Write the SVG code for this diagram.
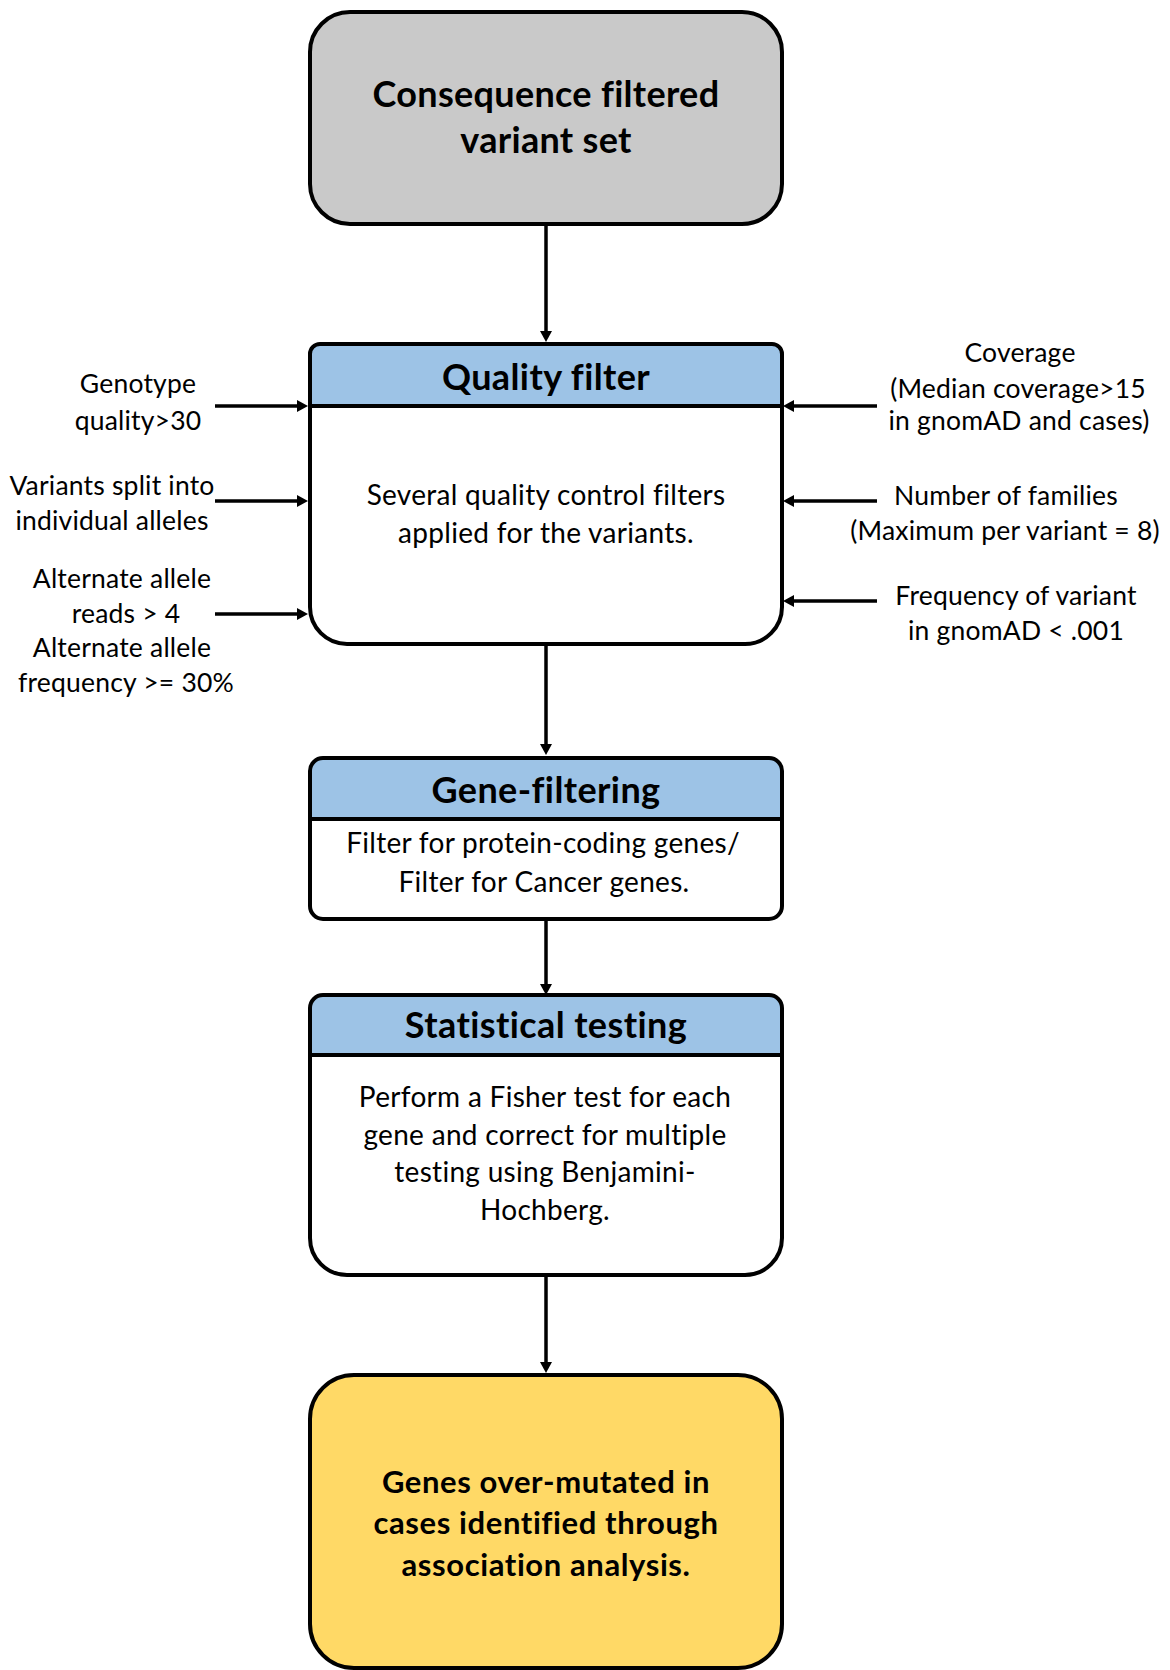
<svg xmlns="http://www.w3.org/2000/svg" width="1170" height="1670" viewBox="0 0 1170 1670">
  <defs>
    <style>
      .box { stroke: #000; stroke-width: 4; }
      .div { stroke: #000; stroke-width: 4; fill: none; }
      .hdr { fill: #9dc3e6; }
      .con { stroke: #000; stroke-width: 3.5; fill: none; marker-end: url(#arrow); }
      text { font-family: Lato, "Open Sans", "Liberation Sans", sans-serif; fill: #000; text-anchor: middle; }
      .title { font-size: 36px; font-weight: bold; letter-spacing: 0.3px; }
      .head { font-size: 36px; font-weight: bold; letter-spacing: 0.4px; }
      .body { font-size: 28px; letter-spacing: 0.3px; }
      .side { font-size: 26.5px; letter-spacing: 0.2px; }
      .result { font-size: 31px; font-weight: bold; letter-spacing: 0.6px; }
    </style>
    <marker id="arrow" markerUnits="userSpaceOnUse" viewBox="0 0 11 12" markerWidth="11" markerHeight="12" refX="5" refY="6" orient="auto">
      <path d="M0,0 L11,6 L0,12 Z" fill="#000"/>
    </marker>
  </defs>
  <rect width="1170" height="1670" fill="#fff"/>

  <!-- connectors -->
  <g id="connectors">
    <line class="con" x1="546" y1="224" x2="546" y2="336"/>
    <line class="con" x1="546" y1="644" x2="546" y2="749"/>
    <line class="con" x1="546" y1="919" x2="546" y2="989"/>
    <line class="con" x1="546" y1="1275" x2="546" y2="1367"/>
    <!-- left criteria -->
    <line class="con" x1="215" y1="406" x2="302" y2="406"/>
    <line class="con" x1="215" y1="501" x2="302" y2="501"/>
    <line class="con" x1="215" y1="614" x2="302" y2="614"/>
    <!-- right criteria -->
    <line class="con" x1="877" y1="406" x2="789" y2="406"/>
    <line class="con" x1="877" y1="501" x2="789" y2="501"/>
    <line class="con" x1="877" y1="601" x2="789" y2="601"/>
  </g>

  <!-- input set -->
  <g id="input">
    <rect class="box" x="310" y="12" width="472" height="212" rx="40" fill="#c9c9c9"/>
    <text class="title" x="546" y="107">Consequence filtered</text>
    <text class="title" x="546" y="153">variant set</text>
  </g>

  <!-- quality filter -->
  <g id="quality">
    <path d="M310,354 a10,10 0 0 1 10,-10 H772 a10,10 0 0 1 10,10 V607 a37,37 0 0 1 -37,37 H347 a37,37 0 0 1 -37,-37 Z" fill="#fff"/>
    <path class="hdr" d="M310,406 V354 a10,10 0 0 1 10,-10 H772 a10,10 0 0 1 10,10 V406 Z"/>
    <path class="box" fill="none" d="M310,354 a10,10 0 0 1 10,-10 H772 a10,10 0 0 1 10,10 V607 a37,37 0 0 1 -37,37 H347 a37,37 0 0 1 -37,-37 Z"/>
    <line class="div" x1="310" y1="406" x2="782" y2="406"/>
    <text class="head" x="546" y="390">Quality filter</text>
    <text class="body" x="546" y="505">Several quality control filters</text>
    <text class="body" x="546" y="543">applied for the variants.</text>
  </g>

  <!-- left criteria labels -->
  <g id="crit-genotype">
    <text class="side" x="138" y="393">Genotype</text>
    <text class="side" x="138" y="430">quality&gt;30</text>
  </g>
  <g id="crit-split">
    <text class="side" x="112" y="495">Variants split into</text>
    <text class="side" x="112" y="530">individual alleles</text>
  </g>
  <g id="crit-alt">
    <text class="side" x="122" y="588">Alternate allele</text>
    <text class="side" x="126" y="623">reads &gt; 4</text>
    <text class="side" x="122" y="657">Alternate allele</text>
    <text class="side" x="126" y="692">frequency &gt;= 30%</text>
  </g>

  <!-- right criteria labels -->
  <g id="crit-coverage">
    <text class="side" x="1020" y="362">Coverage</text>
    <text class="side" x="1018" y="398">(Median coverage&gt;15</text>
    <text class="side" x="1019" y="430">in gnomAD and cases)</text>
  </g>
  <g id="crit-families">
    <text class="side" x="1006" y="505">Number of families</text>
    <text class="side" x="1005" y="540">(Maximum per variant = 8)</text>
  </g>
  <g id="crit-frequency">
    <text class="side" x="1016" y="605">Frequency of variant</text>
    <text class="side" x="1016" y="640">in gnomAD &lt; .001</text>
  </g>

  <!-- gene filtering -->
  <g id="gene-filtering">
    <rect x="310" y="758" width="472" height="161" rx="13" fill="#fff"/>
    <path class="hdr" d="M310,819 V771 a13,13 0 0 1 13,-13 H769 a13,13 0 0 1 13,13 V819 Z"/>
    <rect class="box" x="310" y="758" width="472" height="161" rx="13" fill="none"/>
    <line class="div" x1="310" y1="819" x2="782" y2="819"/>
    <text class="head" x="546" y="803">Gene-filtering</text>
    <text class="body" x="543" y="853">Filter for protein-coding genes/</text>
    <text class="body" x="544" y="892">Filter for Cancer genes.</text>
  </g>

  <!-- statistical testing -->
  <g id="statistics">
    <path d="M310,1008 a13,13 0 0 1 13,-13 H769 a13,13 0 0 1 13,13 V1238 a37,37 0 0 1 -37,37 H347 a37,37 0 0 1 -37,-37 Z" fill="#fff"/>
    <path class="hdr" d="M310,1055 V1008 a13,13 0 0 1 13,-13 H769 a13,13 0 0 1 13,13 V1055 Z"/>
    <path class="box" fill="none" d="M310,1008 a13,13 0 0 1 13,-13 H769 a13,13 0 0 1 13,13 V1238 a37,37 0 0 1 -37,37 H347 a37,37 0 0 1 -37,-37 Z"/>
    <line class="div" x1="310" y1="1055" x2="782" y2="1055"/>
    <text class="head" x="546" y="1038">Statistical testing</text>
    <text class="body" x="545" y="1107">Perform a Fisher test for each</text>
    <text class="body" x="545" y="1145">gene and correct for multiple</text>
    <text class="body" x="545" y="1182">testing using Benjamini-</text>
    <text class="body" x="545" y="1220">Hochberg.</text>
  </g>

  <!-- result -->
  <g id="result">
    <rect class="box" x="310" y="1375" width="472" height="293" rx="44" fill="#ffd966"/>
    <text class="result" x="546" y="1493">Genes over-mutated in</text>
    <text class="result" x="546" y="1534">cases identified through</text>
    <text class="result" x="546" y="1576">association analysis.</text>
  </g>
</svg>
